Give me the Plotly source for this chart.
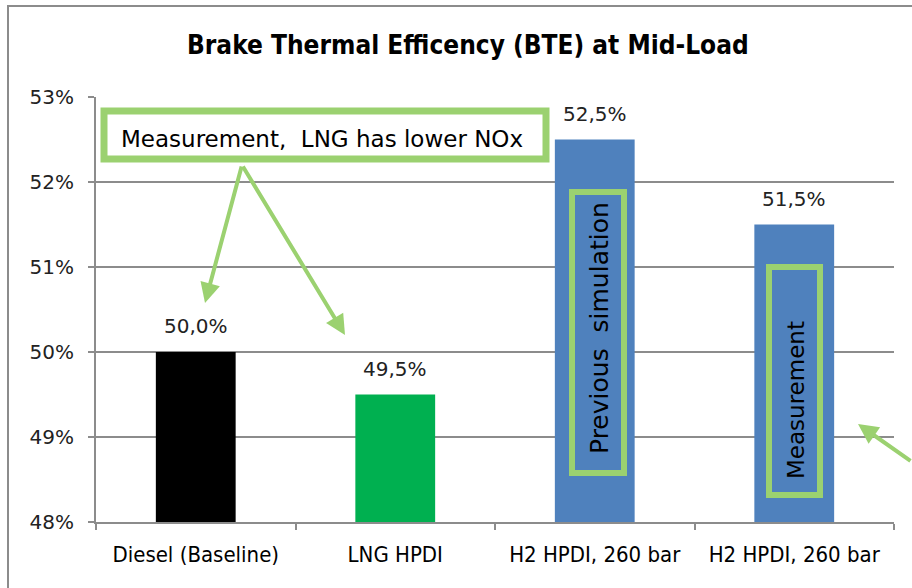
import plotly.graph_objects as go

categories = ["Diesel (Baseline)", "LNG HPDI", "H2 HPDI, 260 bar", "H2 HPDI, 260 bar"]
bte_values = [50.0, 49.5, 52.5, 51.5]
bar_colors = ["#000000", "#00B050", "#4F81BD", "#4F81BD"]
y_ticks = [48, 49, 50, 51, 52, 53]

L, R, T, B = 96, 894, 97, 522
W, H = 912, 588
def px(x):
    return (x - L) / (R - L)
def py(y):
    return (B - y) / (B - T)

xs = list(range(len(categories)))
labels = [f"{v:.1f}%".replace(".", ",") for v in bte_values]

fig = go.Figure()
fig.add_trace(go.Bar(
    x=xs, y=bte_values, width=0.4, marker=dict(color=bar_colors, line=dict(width=0)),
    showlegend=False, hoverinfo="skip",
))

green = "#9BD170"
shapes = [
    dict(type="rect", xref="paper", yref="paper", x0=px(8), x1=1.2, y0=-0.4, y1=py(6),
         line=dict(color="#8c8c8c", width=2), fillcolor="rgba(0,0,0,0)", layer="below"),
    dict(type="rect", xref="paper", yref="paper", x0=px(104), x1=px(546), y0=py(159), y1=py(111),
         line=dict(color=green, width=7), fillcolor="white", layer="above"),
    dict(type="rect", xref="paper", yref="paper", x0=px(572), x1=px(624), y0=py(473), y1=py(192),
         line=dict(color=green, width=6), fillcolor="rgba(0,0,0,0)", layer="above"),
    dict(type="rect", xref="paper", yref="paper", x0=px(769), x1=px(820), y0=py(495), y1=py(267),
         line=dict(color=green, width=6), fillcolor="rgba(0,0,0,0)", layer="above"),
]

def txt(s, x, y, size, family="DejaVu Sans", angle=0):
    return dict(text=s, xref="paper", yref="paper", x=px(x), y=py(y), showarrow=False,
                xanchor="center", yanchor="middle", textangle=angle,
                font=dict(family=family, size=size, color="#000"))

annotations = [
    txt("<b>Brake Thermal Efficency (BTE) at Mid-Load</b>", 468, 45, 26,
        family="DejaVu Sans Condensed"),
    txt("Measurement,&nbsp; LNG has lower NOx", 322, 139, 23),
    txt("Previous&nbsp; simulation", 599, 328, 25, angle=-90),
    txt("Measurement", 796, 400, 23, angle=-90),
]
for xi, v, lab in zip(xs, bte_values, labels):
    annotations.append(dict(text=lab, x=xi, y=v, xref="x", yref="y", showarrow=False,
                            xanchor="center", yanchor="bottom", yshift=12,
                            font=dict(family="DejaVu Sans", size=20, color="#222")))
for (hx, hy, tx, ty) in [(205, 303, 242, 165), (345, 335, 242, 165), (858, 424, 925, 462)]:
    annotations.append(dict(
        text="", xref="paper", yref="paper", x=px(hx), y=py(hy),
        ax=tx - hx, ay=ty - hy, axref="pixel", ayref="pixel",
        showarrow=True, arrowhead=2, arrowsize=1, arrowwidth=4, arrowcolor=green,
    ))

fig.update_layout(
    width=W, height=H, margin=dict(l=L, r=W - R, t=T, b=H - B),
    plot_bgcolor="white", paper_bgcolor="white",
    shapes=shapes, annotations=annotations,
    xaxis=dict(range=[-0.5, 3.5], tickvals=xs, ticktext=categories, ticks="",
               showgrid=False, showline=True, linecolor="#8c8c8c", linewidth=2,
               tickfont=dict(family="DejaVu Sans Condensed", size=22, color="#000"),
               ticklabelstandoff=12,
               minor=dict(tick0=-0.5, dtick=1, ticks="outside", ticklen=6, tickcolor="#8c8c8c", tickwidth=2),
               zeroline=False, fixedrange=True),
    yaxis=dict(range=[48, 53], tickvals=y_ticks, ticktext=[f"{t}%" for t in y_ticks],
               showgrid=True, gridcolor="#8c8c8c", gridwidth=2, showline=True, linecolor="#8c8c8c",
               linewidth=2, ticks="outside", ticklen=6, tickcolor="#8c8c8c", tickwidth=2,
               ticklabelstandoff=10,
               tickfont=dict(family="DejaVu Sans", size=20, color="#222"), zeroline=False),
)

fig.write_html("out.html", config={"displayModeBar": False},
               post_script="document.body.style.margin='0';document.body.style.padding='0';")
